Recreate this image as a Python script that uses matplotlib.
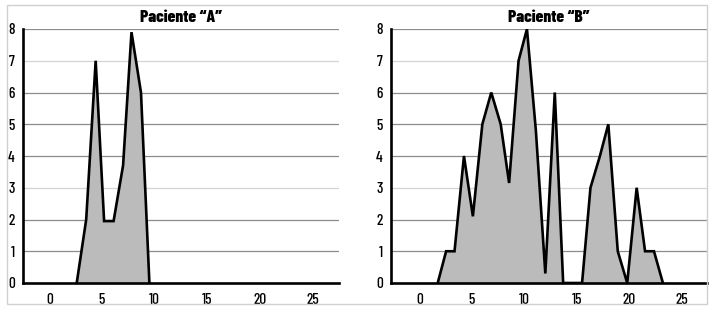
import matplotlib
matplotlib.use("Agg")
import matplotlib.pyplot as plt
from matplotlib.patches import Rectangle

plt.rcParams["font.family"] = ["Barlow Condensed", "DejaVu Sans"]
plt.rcParams["font.weight"] = 500

# Paciente "A"
a_x = [2.6, 3.5, 4.4, 5.2, 6.1, 7.0, 7.8, 8.7, 9.5]
a_y = [0, 2, 7, 1.95, 1.95, 3.7, 7.9, 6, 0]

# Paciente "B"
b_x = [1.75, 2.55, 3.35, 4.25, 5.1, 6.0, 6.85, 7.75, 8.55, 9.45, 10.25, 11.1, 12.0,
       12.9, 13.7, 15.5, 16.3, 17.2, 18.0, 18.9, 19.8, 20.7, 21.5, 22.35, 23.2]
b_y = [0, 1, 1, 4, 2.1, 5, 6, 5, 3.15, 7, 8, 4.8, 0.3,
       6, 0, 0, 3, 4, 5, 1, 0, 3, 1, 1, 0]

titles = ["Paciente \u201cA\u201d", "Paciente \u201cB\u201d"]
xticks = [0, 5, 10, 15, 20, 25]
yticks = list(range(0, 9))

fig = plt.figure(figsize=(7.14, 3.10), dpi=100)
fig.patches.append(Rectangle((7 / 714, 1 - 304 / 310), 700 / 714, 299 / 310,
                             transform=fig.transFigure, fill=False,
                             edgecolor="#d0d0d0", linewidth=1))

panels = [(a_x, a_y, 23 / 714, (-2.5, 27.5)), (b_x, b_y, 391 / 714, (-2.7, 27.4))]
for (xs, ys, left, xlim), title in zip(panels, titles):
    ax = fig.add_axes([left, 27 / 310, 316 / 714, 254 / 310])
    ax.fill_between(xs, ys, 0, color="#bbbbbb", linewidth=0, zorder=2)
    ax.plot(xs, ys, color="black", linewidth=1.9, zorder=3, solid_joinstyle="miter")
    for v in yticks[1:]:
        ax.axhline(v, color="#d4d4d4" if v in (3, 7) else "#8c8c8c",
                   linewidth=0.9, zorder=1)
    ax.set_xlim(*xlim)
    ax.set_ylim(0, 8)
    ax.set_xticks(xticks)
    ax.set_yticks(yticks)
    ax.tick_params(length=0, labelsize=11, pad=7)
    ax.tick_params(axis="y", pad=6)
    for s in ["top", "right"]:
        ax.spines[s].set_visible(False)
    ax.spines["left"].set_linewidth(1.9)
    ax.spines["bottom"].set_linewidth(1.9)
    ax.spines["left"].set_zorder(4)
    ax.spines["bottom"].set_zorder(4)
    ax.set_title(title, fontsize=12.5, fontweight=800, pad=5)

fig.savefig("out.png", dpi=100)
